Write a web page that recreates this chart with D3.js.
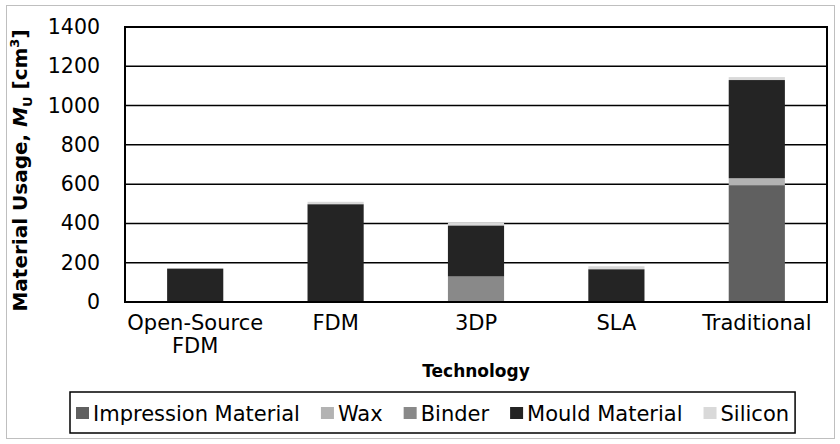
<!DOCTYPE html>
<meta charset="utf-8">
<style>
body { margin: 0; background: #fff; }
text { font-family: "DejaVu Sans", sans-serif; fill: #000; }
</style>
<svg id="chart" width="840" height="444"></svg>
<script src="https://cdn.jsdelivr.net/npm/d3@7/dist/d3.min.js"></script>
<script>

var categories = ["Open-Source FDM", "FDM", "3DP", "SLA", "Traditional"];
var seriesNames = ["Impression Material", "Wax", "Binder", "Mould Material", "Silicon"];
var impression = [0, 0, 0, 0, 595];
var wax = [0, 0, 0, 0, 35];
var binder = [0, 0, 130, 0, 0];
var mould = [170, 498, 260, 167, 500];
var silicon = [0, 12, 15, 15, 15];
var yTicks = [0, 200, 400, 600, 800, 1000, 1200, 1400];
var colors = ["#606060", "#b3b3b3", "#898989", "#242424", "#d9d9d9"];

var svg = d3.select("#chart");
var W = 840, H = 444;
var m = {left: 125, right: 13, top: 27, bottom: 142};

// outer frame
svg.append("rect").attr("x", 6.5).attr("y", 5.5).attr("width", W - 12).attr("height", H - 11)
	.attr("fill", "#fff").attr("stroke", "#bfbfbf").attr("stroke-width", 1);

var rows = categories.map(function(c, i){
	return {cat: c, "Impression Material": impression[i], "Wax": wax[i], "Binder": binder[i],
		"Mould Material": mould[i], "Silicon": silicon[i]};
});
var stack = d3.stack().keys(seriesNames)(rows);

var x = d3.scaleBand().domain(categories).range([m.left, W - m.right]).paddingInner(0.6).paddingOuter(0.3);
var y = d3.scaleLinear().domain([0, 1400]).range([H - m.bottom, m.top]);

// gridlines
svg.append("g").selectAll("line").data(yTicks).join("line")
	.attr("x1", m.left).attr("x2", W - m.right)
	.attr("y1", function(d){ return y(d); }).attr("y2", function(d){ return y(d); })
	.attr("stroke", "#000").attr("stroke-width", 1.5);

// bars
svg.append("g").selectAll("g").data(stack).join("g")
	.attr("fill", function(d, i){ return colors[i]; })
	.selectAll("rect").data(function(d){ return d; }).join("rect")
	.attr("x", function(d){ return x(d.data.cat); })
	.attr("width", x.bandwidth())
	.attr("y", function(d){ return y(d[1]); })
	.attr("height", function(d){ return y(d[0]) - y(d[1]); });

// plot frame
svg.append("rect").attr("x", m.left).attr("y", m.top)
	.attr("width", W - m.right - m.left).attr("height", H - m.bottom - m.top)
	.attr("fill", "none").attr("stroke", "#000").attr("stroke-width", 2);

// y axis
var yAxis = svg.append("g").attr("transform", "translate(" + m.left + ",0)")
	.call(d3.axisLeft(y).tickValues(yTicks).tickFormat(d3.format("d")).tickSize(0).tickPadding(25));
yAxis.select(".domain").remove();
yAxis.selectAll("text").style("font-size", "20.5px").attr("font-family", null);

// x axis labels
var xAxis = svg.append("g").attr("transform", "translate(0," + (H - m.bottom) + ")")
	.call(d3.axisBottom(x).tickSize(0).tickPadding(13));
xAxis.select(".domain").remove();
xAxis.selectAll("text").style("font-size", "21px").attr("font-family", null)
	.each(function(d){
		var t = d3.select(this);
		if (d === "Open-Source FDM") {
			t.text(null);
			t.append("tspan").attr("x", 0).attr("dy", "0.71em").text("Open-Source");
			t.append("tspan").attr("x", 0).attr("dy", "1.08em").text("FDM");
		}
	});

// axis titles
svg.append("text").attr("x", (m.left + W - m.right) / 2).attr("y", 377)
	.attr("text-anchor", "middle").style("font-size", "17px").style("font-weight", "bold")
	.text("Technology");

var yt = svg.append("text").attr("transform", "translate(27," + ((m.top + H - m.bottom) / 2 + 6) + ") rotate(-90)")
	.attr("text-anchor", "middle").style("font-size", "20px").style("font-weight", "bold");
yt.append("tspan").text("Material Usage, ");
yt.append("tspan").style("font-style", "italic").text("M");
yt.append("tspan").attr("dy", 5).style("font-size", "13px").text("U");
yt.append("tspan").attr("dy", -5).text(" [cm");
yt.append("tspan").attr("dy", -8).style("font-size", "13px").text("3");
yt.append("tspan").attr("dy", 8).text("]");

// legend
var legBox = svg.append("rect").attr("x", 70).attr("y", 392).attr("height", 41)
	.attr("fill", "none").attr("stroke", "#000").attr("stroke-width", 1.5);
var leg = svg.append("g").selectAll("g").data(seriesNames).join("g");
leg.append("rect").attr("y", 407).attr("width", 13).attr("height", 12)
	.attr("fill", function(d, i){ return colors[i]; });
leg.append("text").attr("x", 17).attr("y", 421).style("font-size", "21px")
	.text(function(d){ return d; });
var lx = 76;
leg.each(function(){
	var g = d3.select(this);
	g.attr("transform", "translate(" + lx + ",0)");
	lx += 17 + g.select("text").node().getComputedTextLength() + 21;
});
legBox.attr("width", lx - 21 + 6 - 70);

</script>
</html>
